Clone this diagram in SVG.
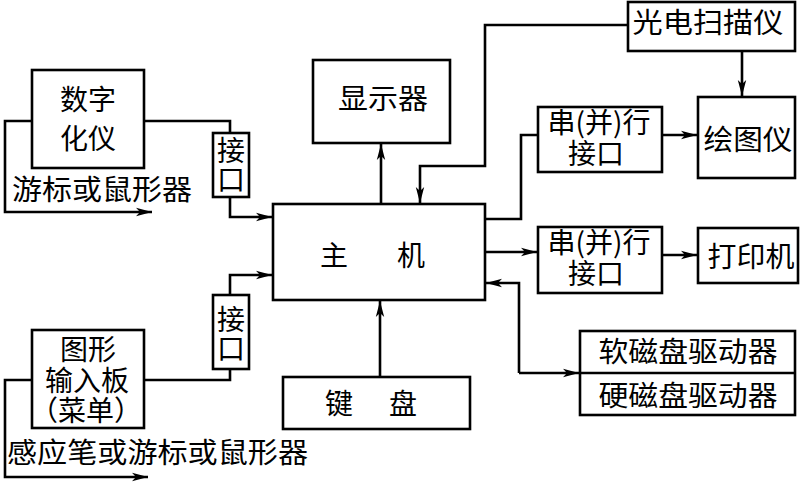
<svg xmlns="http://www.w3.org/2000/svg" width="809" height="482" viewBox="0 0 809 482">
<style>
.box{fill:#fff;stroke:#000;stroke-width:2.6}
.ln{fill:none;stroke:#000;stroke-width:2.6}
text{font-family:"Noto Sans CJK SC","Noto Sans",sans-serif;font-size:28px;fill:#000}
.c{text-anchor:middle}
</style>
<defs>
<marker id="ar" markerUnits="userSpaceOnUse" markerWidth="18" markerHeight="10" refX="16" refY="5" orient="auto">
<path d="M0,0.8 L16,5 L0,9.2 L4,5 z" fill="#000"/>
</marker>
</defs>
<rect width="809" height="482" fill="#fff"/>
<g id="connectors">
<path class="ln" d="M32,121 H5 V212 H152" marker-end="url(#ar)"/>
<path class="ln" d="M144,121 H230 V133"/>
<path class="ln" d="M230,197 V217 H272" marker-end="url(#ar)"/>
<path class="ln" d="M32,380 H5 V477 H148" marker-end="url(#ar)"/>
<path class="ln" d="M144,380 H230 V369"/>
<path class="ln" d="M230,295 V275 H272" marker-end="url(#ar)"/>
<path class="ln" d="M381,204 V144" marker-end="url(#ar)"/>
<path class="ln" d="M628,25 H485 V166 H420 V203" marker-end="url(#ar)"/>
<path class="ln" d="M380,377 V301" marker-end="url(#ar)"/>
<path class="ln" d="M485,219 H521 V135 H538"/>
<path class="ln" d="M662,135 H697" marker-end="url(#ar)"/>
<path class="ln" d="M742,51 V96" marker-end="url(#ar)"/>
<path class="ln" d="M485,252 H537" marker-end="url(#ar)"/>
<path class="ln" d="M662,255 H697" marker-end="url(#ar)"/>
<path class="ln" d="M519,373 V283 H486" marker-end="url(#ar)"/>
<path class="ln" d="M519,373 H579" marker-end="url(#ar)"/>
</g>
<g id="digitizer">
<rect class="box" x="32" y="70" width="112" height="98"/>
<text class="c" x="88" y="110">数字<tspan x="88" y="149">化仪</tspan></text>
</g>
<text id="label-top" x="12" y="200" textLength="180" lengthAdjust="spacingAndGlyphs">游标或鼠形器</text>
<g id="interface1">
<rect class="box" x="213" y="133" width="36" height="64"/>
<text class="c" x="231" y="161">接<tspan x="231" y="190">口</tspan></text>
</g>
<g id="tablet">
<rect class="box" x="32" y="330" width="112" height="98"/>
<text class="c" x="88" y="360">图形<tspan x="87" y="391">输入板</tspan><tspan x="86" y="421">（菜单）</tspan></text>
</g>
<text id="label-bottom" x="7" y="463" textLength="301" lengthAdjust="spacingAndGlyphs">感应笔或游标或鼠形器</text>
<g id="interface2">
<rect class="box" x="213" y="295" width="36" height="74"/>
<text class="c" x="231" y="330">接<tspan x="231" y="359">口</tspan></text>
</g>
<g id="display">
<rect class="box" x="313" y="60" width="137" height="83"/>
<text class="c" x="383" y="109" textLength="90" lengthAdjust="spacingAndGlyphs">显示器</text>
</g>
<g id="host">
<rect class="box" x="273" y="204" width="212" height="96"/>
<text class="c" x="334" y="266">主</text>
<text class="c" x="411" y="266">机</text>
</g>
<g id="keyboard">
<rect class="box" x="283" y="377" width="187" height="52"/>
<text class="c" x="339" y="414">键</text>
<text class="c" x="403" y="414">盘</text>
</g>
<g id="scanner">
<rect class="box" x="628" y="2" width="167" height="49"/>
<text class="c" x="708" y="33" textLength="151" lengthAdjust="spacingAndGlyphs">光电扫描仪</text>
</g>
<g id="port1">
<rect class="box" x="538" y="107" width="124" height="65"/>
<text class="c" x="599" y="133">串(并)行<tspan x="596" y="164">接口</tspan></text>
</g>
<g id="plotter">
<rect class="box" x="698" y="97" width="97" height="81"/>
<text class="c" x="748" y="150" textLength="89" lengthAdjust="spacingAndGlyphs">绘图仪</text>
</g>
<g id="port2">
<rect class="box" x="538" y="227" width="124" height="66"/>
<text class="c" x="599" y="253">串(并)行<tspan x="596" y="284">接口</tspan></text>
</g>
<g id="printer">
<rect class="box" x="698" y="228" width="100" height="55"/>
<text class="c" x="751" y="267" textLength="87" lengthAdjust="spacingAndGlyphs">打印机</text>
</g>
<g id="drives">
<rect class="box" x="580" y="331" width="215" height="84"/>
<line class="ln" x1="580" y1="373" x2="795" y2="373"/>
<text class="c" x="688" y="362" textLength="179" lengthAdjust="spacingAndGlyphs">软磁盘驱动器</text>
<text class="c" x="688" y="406" textLength="179" lengthAdjust="spacingAndGlyphs">硬磁盘驱动器</text>
</g>
</svg>
